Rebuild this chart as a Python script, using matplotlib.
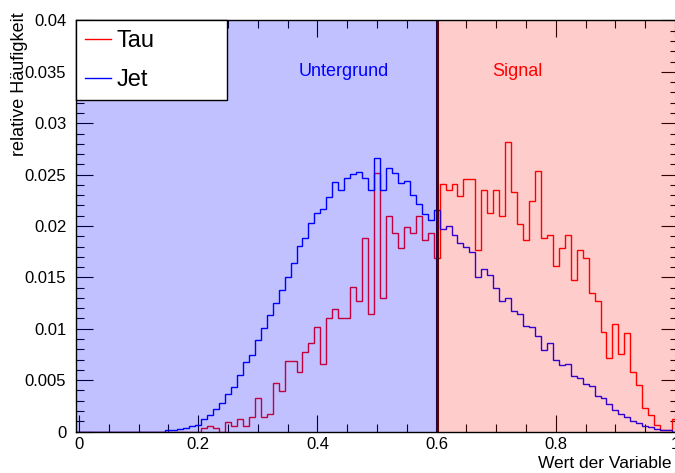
import numpy as np
import matplotlib
matplotlib.use("Agg")
import matplotlib.pyplot as plt
from matplotlib.ticker import FixedLocator, FuncFormatter
from matplotlib.lines import Line2D

plt.rcParams['font.family'] = ['Liberation Sans', 'DejaVu Sans']

# bin centres 0.00 ... 1.00 (101 bins, width 0.01)
bin_centers = np.round(np.arange(101) * 0.01, 2)

# relative frequency per bin, tau sample
tau = [0, 0, 0, 0, 0, 0, 0, 0, 0, 0,
       0, 0, 0, 0, 0, 0, 0, 0, 0, 0,
       0, 0.0003, 0.00057, 0.0003, 0, 0.0009, 0.00054, 0.0012, 0.00057, 0.00144,
       0.0033, 0.00144, 0.0017, 0.0047, 0.0039, 0.0069, 0.0069, 0.0058, 0.0077, 0.0086,
       0.0102, 0.0066, 0.0110, 0.0119, 0.0110, 0.0110, 0.0141, 0.0127, 0.0188, 0.0114,
       0.0252, 0.0130, 0.0210, 0.0193, 0.0179, 0.0199, 0.0193, 0.0210, 0.0186, 0.0193,
       0.0169, 0.0241, 0.0235, 0.0241, 0.0229, 0.0246, 0.0246, 0.0177, 0.0235, 0.0213,
       0.0235, 0.0210, 0.0282, 0.0233, 0.0202, 0.0186, 0.0224, 0.0254, 0.0188, 0.0191,
       0.0161, 0.0179, 0.0191, 0.0147, 0.0177, 0.0169, 0.0135, 0.0127, 0.0097, 0.0072,
       0.0105, 0.0075, 0.0096, 0.0058, 0.0045, 0.0023, 0.0016, 0.0006, 0.0001, 0.0001,
       0.0012]

# relative frequency per bin, jet sample
jet = [0, 0, 0, 0, 0, 0, 0, 0, 0, 0,
       0, 0, 0, 0, 0, 0.0001, 0.0001, 0.0002, 0.00037, 0.00054,
       0.0006, 0.00119, 0.00158, 0.00216, 0.0028, 0.00365, 0.0043, 0.0055, 0.0068, 0.0074,
       0.0089, 0.0101, 0.0113, 0.0125, 0.0138, 0.0150, 0.0164, 0.0181, 0.0188, 0.0203,
       0.0213, 0.0217, 0.0228, 0.0243, 0.0235, 0.0247, 0.0251, 0.0253, 0.0247, 0.0235,
       0.0266, 0.0235, 0.0256, 0.0252, 0.0242, 0.0244, 0.0230, 0.0221, 0.0212, 0.0206,
       0.0216, 0.0197, 0.0200, 0.0191, 0.0183, 0.0180, 0.0175, 0.0150, 0.0158, 0.0152,
       0.0140, 0.0127, 0.0130, 0.0117, 0.0114, 0.0103, 0.0102, 0.0093, 0.0079, 0.0086,
       0.0070, 0.0065, 0.0066, 0.0054, 0.0052, 0.0046, 0.0044, 0.0035, 0.0033, 0.0027,
       0.0021, 0.0017, 0.0014, 0.00105, 0.00086, 0.00054, 0.0004, 0.0002, 0.00012, 0.0001,
       0]

cut = 0.6

# bin edges from the centres
half = 0.005
edges = np.append(bin_centers - half, bin_centers[-1] + half)

fig = plt.figure(figsize=(6.75, 4.73), dpi=100)
ax = fig.add_axes([76 / 675, 41.5 / 473, 602 / 675, 411 / 473])

# histograms as step outlines
ax.stairs(tau, edges, color='red', lw=1.0, baseline=0, zorder=2, label='Tau')
ax.stairs(jet, edges, color='blue', lw=1.0, baseline=0, zorder=2.1, label='Jet')

# cut line and shaded regions (drawn on top, transparent)
ax.axvline(cut, color='#300000', lw=2.2, zorder=2.5)
ax.axvspan(edges[0], cut, color='blue', alpha=0.245, lw=0, zorder=3)
ax.axvspan(cut, edges[-1], color='red', alpha=0.2, lw=0, zorder=3)

ax.text(0.445, 0.035, 'Untergrund', color='blue', fontsize=13,
        ha='center', va='center', zorder=4)
ax.text(0.735, 0.035, 'Signal', color='red', fontsize=13,
        ha='center', va='center', zorder=4)

ax.set_xlim(edges[0], edges[-1])
ax.set_ylim(0, 0.04)

# ROOT-like ticks: inside, on all four sides
ax.xaxis.set_major_locator(FixedLocator(np.arange(0, 1.01, 0.2)))
ax.xaxis.set_minor_locator(FixedLocator(np.arange(0, 1.01, 0.05)))
ax.yaxis.set_major_locator(FixedLocator(np.arange(0, 0.0401, 0.005)))
ax.yaxis.set_minor_locator(FixedLocator(np.arange(0, 0.0401, 0.001)))
fmt = FuncFormatter(lambda v, p: '%g' % round(v, 4))
ax.xaxis.set_major_formatter(fmt)
ax.yaxis.set_major_formatter(fmt)
ax.tick_params(which='both', direction='in', top=True, right=True,
               labelsize=12, width=0.8)
ax.tick_params(which='major', length=12)
ax.tick_params(which='minor', length=6)
ax.tick_params(axis='x', which='major', pad=4)
ax.tick_params(axis='y', which='major', pad=7)
for s in ax.spines.values():
    s.set_linewidth(1.0)
    s.set_zorder(5)

fig.text(672 / 675, 1 - 463 / 473, 'Wert der Variable', fontsize=12.5,
         ha='right', va='center')
fig.text(20 / 675, 1 - 12 / 473, 'relative Häufigkeit', fontsize=13,
         rotation=90, ha='center', va='top')

# legend box in the upper left corner
handles = [Line2D([], [], color='red', lw=1.0), Line2D([], [], color='blue', lw=1.0)]
leg = ax.legend(handles, ['Tau', 'Jet'], loc='upper left',
                bbox_to_anchor=(0, 0, 151 / 602, 1), mode='expand',
                borderaxespad=0, fontsize=17, frameon=True, fancybox=False,
                framealpha=1, edgecolor='black', borderpad=0.4,
                labelspacing=0.72, handlelength=1.1, handletextpad=0.22)
leg.get_frame().set_linewidth(1.0)
leg.set_zorder(6)

fig.savefig('out.png', dpi=100)
